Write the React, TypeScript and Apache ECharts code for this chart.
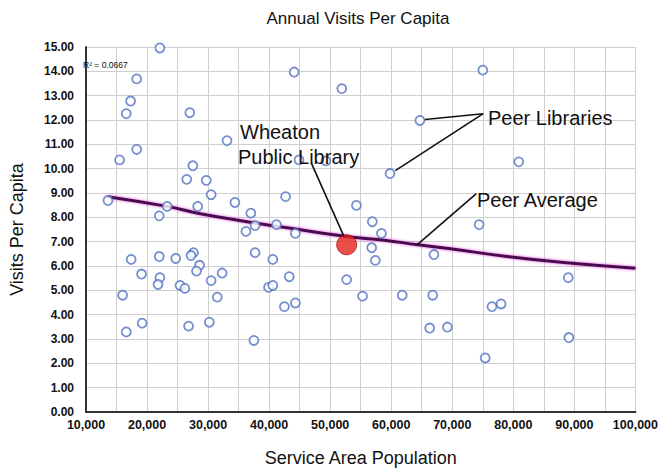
import React, { useEffect, useRef } from "react";
import * as echarts from "echarts";

// Peer libraries: service area population and visits per capita
const popX = [
  22100, 18300, 17300, 16600, 27000, 33100, 18300, 15500, 27500, 44100,
  51900, 64700, 44900, 49300, 59800, 75000, 80900, 26500, 29700, 30500,
  13600, 34400, 23300, 28300, 37000, 22000, 37700, 36200, 37700, 40600,
  17400, 22000, 24700, 27600, 27200, 28600, 28100, 32300, 19100, 22100,
  21800, 30500, 25400, 26200, 16000, 31500, 39900, 40600, 42700, 54300,
  41200, 44300, 56900, 58400, 56800, 67000, 57400, 52700, 43300, 42500,
  44300, 55300, 61800, 66800, 74400, 89000, 76500, 78000, 19200, 16600,
  26800, 30200, 37500, 66300, 69200, 89100, 75400,
];
const visits = [
  14.96, 13.69, 12.78, 12.26, 12.3, 11.15, 10.79, 10.36, 10.12, 13.97,
  13.29, 11.98, 10.36, 10.32, 9.8, 14.05, 10.28, 9.56, 9.52, 8.93,
  8.69, 8.61, 8.45, 8.45, 8.17, 8.06, 7.66, 7.42, 6.55, 6.27,
  6.27, 6.39, 6.31, 6.55, 6.43, 6.03, 5.79, 5.71, 5.67, 5.52,
  5.24, 5.4, 5.2, 5.08, 4.8, 4.72, 5.12, 5.2, 8.85, 8.49,
  7.7, 7.34, 7.82, 7.34, 6.75, 6.47, 6.23, 5.44, 5.56, 4.33,
  4.48, 4.76, 4.8, 4.8, 7.7, 5.52, 4.33, 4.44, 3.65, 3.29,
  3.53, 3.69, 2.94, 3.45, 3.49, 3.06, 2.22,
];

// Peer average trend line
const trendX = [13560, 23270, 28290, 37350, 42700, 52410, 58880, 64380, 69720, 78950, 89630, 100000];
const trendY = [8.85, 8.45, 8.17, 7.78, 7.58, 7.22, 7.06, 6.87, 6.71, 6.39, 6.11, 5.91];

// Wheaton Public Library
const wheatonX = 52700;
const wheatonY = 6.87;

// Axis ranges
const xMin = 10000;
const xMax = 100000;
const xStep = 10000;
const yMin = 0;
const yMax = 15;
const yStep = 1;

// Annotation arrows [from, to] in data units
const arrowFrom = [
  [46900, 10.24],
  [75070, 12.26],
  [75070, 12.26],
  [73940, 8.97],
];
const arrowTo = [
  [52250, 7.22],
  [65520, 12.02],
  [60670, 9.92],
  [64230, 6.87],
];

const FONT = "'Liberation Sans', Arial, Helvetica, sans-serif";

export default function App() {
  const ref = useRef<HTMLDivElement>(null);

  useEffect(() => {
    if (!ref.current) return;
    const chart = echarts.init(ref.current, undefined, { renderer: "svg" });

    const txt = (text: string, x: number, y: number, size: number, align = "left") => ({
      type: "text",
      x,
      y,
      z: 100,
      style: {
        text,
        fontSize: size,
        fontFamily: FONT,
        fill: "#111",
        align,
        verticalAlign: "middle",
      },
    });

    chart.setOption({
      animation: false,
      backgroundColor: "#fff",
      textStyle: { fontFamily: FONT },
      grid: { left: 81, top: 47, right: 24, bottom: 46, containLabel: false },
      xAxis: {
        type: "value",
        min: xMin,
        max: xMax,
        interval: xStep,
        name: "Service Area Population",
        nameLocation: "middle",
        nameGap: 37,
        nameTextStyle: { fontSize: 18, color: "#111", fontFamily: FONT },
        axisLine: { show: true, lineStyle: { color: "#333", width: 2 } },
        axisTick: { show: false },
        axisLabel: {
          margin: 6,
          fontSize: 12.5,
          fontWeight: 600,
          color: "#111",
          fontFamily: FONT,
          showMaxLabel: true,
          showMinLabel: true,
          formatter: (v: number) => v.toLocaleString("en-US"),
        },
        splitLine: { show: true, lineStyle: { color: "#cfcfcf", width: 1 } },
        minorTick: { show: false, splitNumber: 2 },
        minorSplitLine: { show: true, lineStyle: { color: "#cfcfcf", width: 1 } },
      },
      yAxis: {
        type: "value",
        min: yMin,
        max: yMax,
        interval: yStep,
        name: "Visits Per Capita",
        nameLocation: "middle",
        nameGap: 60,
        nameTextStyle: { fontSize: 18, color: "#111", fontFamily: FONT },
        axisLine: { show: true, lineStyle: { color: "#333", width: 2 } },
        axisTick: { show: false },
        axisLabel: {
          margin: 12,
          fontSize: 12,
          fontWeight: 600,
          color: "#111",
          fontFamily: FONT,
          formatter: (v: number) => v.toFixed(2),
        },
        splitLine: { show: true, lineStyle: { color: "#cfcfcf", width: 1 } },
      },
      graphic: [
        txt("Annual Visits Per Capita", 358, 18, 17, "center"),
        txt("R\u00B2 = 0.0667", 83, 65, 8.5),
        txt("Wheaton", 240, 132, 20),
        txt("Public Library", 238, 157, 20),
        txt("Peer Libraries", 488, 118, 20),
        txt("Peer Average", 477, 200, 20),
      ],
      series: [
        {
          type: "line",
          name: "Peer Average",
          data: trendX.map((x, i) => [x, trendY[i]]),
          showSymbol: false,
          smooth: true,
          z: 2,
          silent: true,
          lineStyle: {
            color: "#45094a",
            width: 3,
            shadowColor: "rgba(225,60,215,0.9)",
            shadowBlur: 3,
          },
          markLine: {
            silent: true,
            animation: false,
            symbol: ["none", "arrow"],
            symbolSize: [0, 9],
            label: { show: false },
            lineStyle: { color: "#111", width: 1.6, type: "solid" },
            emphasis: { disabled: true },
            data: arrowFrom.map((f, i) => [{ coord: f }, { coord: arrowTo[i] }]),
          },
        },
        {
          type: "scatter",
          name: "Peer Libraries",
          data: popX.map((x, i) => [x, visits[i]]),
          symbol: "circle",
          symbolSize: 9,
          z: 3,
          itemStyle: { color: "#ffffff", borderColor: "#5272c2", borderWidth: 1.8 },
        },
        {
          type: "scatter",
          name: "Wheaton Public Library",
          data: [[wheatonX, wheatonY]],
          symbol: "circle",
          symbolSize: 20,
          z: 4,
          itemStyle: { color: "#e5231d", borderColor: "#b81515", borderWidth: 1 },
        },
      ],
    });

    return () => chart.dispose();
  }, []);

  return (
    <div
      ref={ref}
      style={{ position: "fixed", left: 0, top: 0, width: 661, height: 472, background: "#fff" }}
    />
  );
}
